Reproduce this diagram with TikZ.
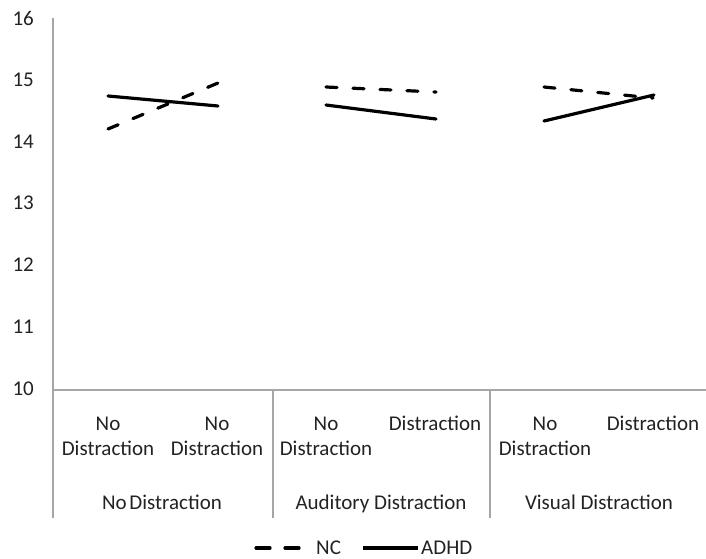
\documentclass[tikz,border=0pt]{standalone}
\usepackage{fontspec}
\setmainfont{Carlito}
\definecolor{axisgray}{HTML}{A6A6A6}
\definecolor{txt}{HTML}{222222}
\begin{document}
\begin{tikzpicture}[x=1pt,y=-1pt,
  axisline/.style={draw=axisgray,line width=2pt},
  lbl/.style={font=\fontsize{21}{25}\selectfont,text=txt,inner sep=0pt,anchor=base},
  ncline/.style={line width=3.2pt,line cap=round,dash pattern=on 11pt off 16pt},
  adhdline/.style={line width=3.2pt,line cap=round},
]
\useasboundingbox (0,0) rectangle (706,558);
% axes
\coordinate (ytop) at (53,18);
\coordinate (ybot) at (53,518);
\coordinate (xl) at (53,390);
\coordinate (xr) at (707,390);
\coordinate (s1t) at (273,390);
\coordinate (s1b) at (273,518);
\coordinate (s2t) at (490,390);
\coordinate (s2b) at (490,518);
\draw[axisline] (ytop) -- (ybot);
\draw[axisline] (xl) -- (xr);
\draw[axisline] (s1t) -- (s1b);
\draw[axisline] (s2t) -- (s2b);
% y tick labels
\foreach \v/\yy in {16/18,15/80,14/142,13/203,12/265,11/327,10/389}
  \node[lbl,anchor=east] (yl\v) at (34,\yy) {\v};
% category sub-labels
\node[lbl] (a1) at (108,430) {No};
\node[lbl] (a2) at (108,455) {Distraction};
\node[lbl] (b1) at (217,430) {No};
\node[lbl] (b2) at (217,455) {Distraction};
\node[lbl] (c1) at (326,430) {No};
\node[lbl] (c2) at (326,455) {Distraction};
\node[lbl] (d1) at (435,430) {Distraction};
\node[lbl] (e1) at (545,430) {No};
\node[lbl] (e2) at (545,455) {Distraction};
\node[lbl] (f1) at (653,430) {Distraction};
% categories
\node[lbl] (g1) at (162,509) {No\hspace{-2pt} Distraction};
\node[lbl] (g2) at (381,509) {Auditory Distraction};
\node[lbl] (g3) at (599,509) {Visual Distraction};
% data points
\coordinate (n1) at (108,129);
\coordinate (n2) at (218,83);
\coordinate (n3) at (326,87);
\coordinate (n4) at (436,92);
\coordinate (n5) at (544,87);
\coordinate (n6) at (653,98);
\coordinate (h1) at (108,96);
\coordinate (h2) at (218,106);
\coordinate (h3) at (326,105);
\coordinate (h4) at (436,119);
\coordinate (h5) at (544,121);
\coordinate (h6) at (654,95);
\draw[ncline] (n1) -- (n2);
\draw[ncline] (n3) -- (n4);
\draw[ncline] (n5) -- (n6);
\draw[adhdline] (h1) -- (h2);
\draw[adhdline] (h3) -- (h4);
\draw[adhdline] (h5) -- (h6);
% legend
\coordinate (lg1) at (256,548);
\coordinate (lg2) at (300,548);
\coordinate (lg3) at (363,548);
\coordinate (lg4) at (418,548);
\draw[ncline,dash pattern=on 14pt off 15pt] (lg1) -- (lg2);
\draw[adhdline,line cap=butt] (lg3) -- (lg4);
\node[lbl,anchor=west] (lnc) at (316,548) {NC};
\node[lbl,anchor=west] (ladhd) at (421,548) {ADHD};
\end{tikzpicture}
\end{document}
